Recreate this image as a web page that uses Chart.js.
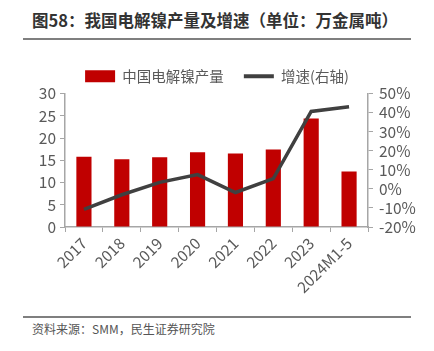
<!DOCTYPE html>
<html>
<head>
<meta charset="utf-8">
<script src="https://cdn.jsdelivr.net/npm/chart.js@4/dist/chart.umd.min.js"></script>
<style>
  body { margin: 0; width: 434px; height: 351px; background: #fff; position: relative; overflow: hidden;
         font-family: 'Noto Sans CJK SC', 'Noto Sans', sans-serif; }
  #title { position: absolute; left: 32px; top: 8px; font-size: 16.5px; font-weight: bold; color: #333; white-space: nowrap; }
  #topline { position: absolute; left: 23px; top: 38px; width: 388px; height: 2px; background: #7f7f7f; }
  #botline { position: absolute; left: 23px; top: 316px; width: 388px; height: 2px; background: #7f7f7f; }
  #source { position: absolute; left: 32px; top: 320px; font-size: 12px; color: #555; white-space: nowrap; }
  #wrap { position: absolute; left: 0; top: 45px; width: 434px; height: 268px; }
</style>
</head>
<body>
<div id="title">图58：我国电解镍产量及增速（单位：万金属吨）</div>
<div id="topline"></div>
<div id="wrap"><canvas id="myChart"></canvas></div>
<div id="botline"></div>
<div id="source">资料来源：SMM，民生证券研究院</div>
<script>
const labels = ['2017', '2018', '2019', '2020', '2021', '2022', '2023', '2024M1-5'];
const output = [15.8, 15.2, 15.7, 16.8, 16.5, 17.4, 24.4, 12.5];
const growth = [-10.7, -3.1, 3.4, 7.5, -1.9, 5.4, 40.6, 43.0];

const ctx = document.getElementById('myChart');
const tickColor = '#595959';
const axisColor = '#a6a6a6';
const font = { family: "'Noto Sans CJK SC', 'Noto Sans', sans-serif", size: 15.5 };
const legendFont = { family: "'Noto Sans CJK SC', 'Noto Sans', sans-serif", size: 14.5 };

new Chart(ctx, {
data: {
    labels: labels,
    datasets: [{
        type: 'line',
        label: '增速(右轴)',
        data: growth,
        yAxisID: 'y1',
        borderColor: '#404040',
        backgroundColor: '#404040',
        borderWidth: 3.5,
        pointRadius: 0,
        pointStyle: 'line',
        tension: 0,
        order: 0
    }, {
        type: 'bar',
        label: '中国电解镍产量',
        data: output,
        yAxisID: 'y',
        backgroundColor: '#c00000',
        borderColor: '#c00000',
        pointStyle: 'rect',
        barPercentage: 0.4,
        categoryPercentage: 1,
        order: 1
    }]
},
options: {
    responsive: true,
    maintainAspectRatio: false,
    animation: false,
    layout: { padding: { left: 0, right: 0, top: 4, bottom: 0 } },
    plugins: {
        legend: {
            reverse: true,
            labels: {
                color: tickColor,
                font: legendFont,
                usePointStyle: true,
                pointStyleWidth: 30,
                boxHeight: 12,
                padding: 20,
                generateLabels: (chart) => {
                    const items = Chart.defaults.plugins.legend.labels.generateLabels(chart);
                    items.forEach((it) => {
                        if (it.pointStyle === 'line') {
                            it.lineWidth = 4;
                            it.strokeStyle = '#404040';
                        }
                    });
                    return items;
                }
            }
        },
        tooltip: { enabled: false }
    },
    scales: {
        x: {
            offset: true,
            grid: { display: true, drawOnChartArea: false, offset: true, tickLength: 5, color: axisColor },
            border: { color: axisColor, width: 1.5 },
            ticks: { color: tickColor, font: font, maxRotation: 45, minRotation: 45, padding: 2 },
            afterFit: (s) => { s.height = 86; }
        },
        y: {
            position: 'left',
            min: 0,
            max: 30,
            grid: { drawOnChartArea: false, tickLength: 5, color: axisColor },
            border: { color: axisColor, width: 1.5 },
            ticks: { stepSize: 5, autoSkip: false, color: tickColor, font: font, padding: 4 },
            afterFit: (s) => { s.width = 65; }
        },
        y1: {
            position: 'right',
            min: -20,
            max: 50,
            grid: { drawOnChartArea: false, tickLength: 5, color: axisColor },
            border: { color: axisColor, width: 1.5 },
            ticks: { stepSize: 10, autoSkip: false, color: tickColor, font: font, padding: 6,
                     callback: (v) => v + '%' },
            afterFit: (s) => { s.width = 66; }
        }
    }
}
});
</script>
</body>
</html>
